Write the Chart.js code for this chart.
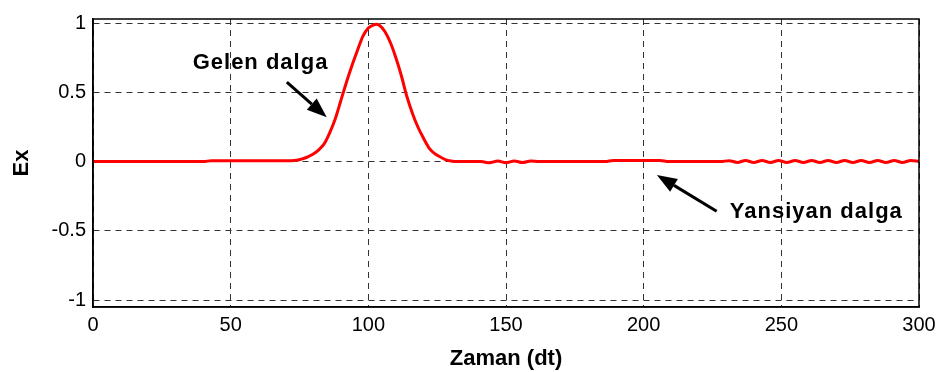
<!DOCTYPE html>
<html>
<head>
<meta charset="utf-8">
<script src="https://cdn.jsdelivr.net/npm/chart.js@4"></script>
<style>
  html, body { margin: 0; padding: 0; background: #fff; }
  #wrap { width: 944px; height: 372px; position: relative; }
</style>
</head>
<body>
<div id="wrap"><canvas id="exChart"></canvas></div>
<script>
// zaman adimlari (dt) ve Ex degerleri
const timeSteps = [0, 40, 43, 72, 74, 76, 78, 80, 82, 84, 86, 88, 90, 92, 94, 96, 98, 100, 102, 103, 104,
  106, 108, 110, 112, 114, 116, 118, 120, 122, 124, 126, 128, 130, 132,
  141, 144, 147, 150, 153, 156, 159, 162,
  186, 189, 206, 209,
  228, 231, 234, 237, 240, 243, 246, 249, 252, 255, 258, 261, 264, 267, 270, 273, 276, 279,
  282, 285, 288, 291, 294, 297, 300];
const exValues = [0, 0, 0.007, 0.007, 0.01, 0.02, 0.035, 0.055, 0.085, 0.13, 0.21, 0.31, 0.44, 0.57, 0.69, 0.80, 0.905, 0.965, 0.988, 0.992, 0.985,
  0.94, 0.86, 0.75, 0.62, 0.47, 0.35, 0.25, 0.17, 0.10, 0.06, 0.035, 0.015, 0.005, 0,
  0, -0.008, 0.004, -0.008, 0.005, -0.007, 0.005, 0,
  0, 0.008, 0.008, 0,
  0, 0.007, -0.006, 0.008, -0.006, 0.008, -0.006, 0.008, -0.006, 0.008, -0.006, 0.008, -0.006, 0.008, -0.006, 0.008, -0.006, 0.008,
  -0.006, 0.008, -0.006, 0.008, -0.006, 0.008, 0.002];
const xTicks = [0, 50, 100, 150, 200, 250, 300];
const yTicks = [-1, -0.5, 0, 0.5, 1];

// etiketler ve oklar (veri koordinatlarinda)
const notes = [
  { text: 'Gelen dalga', tx: 36.2, ty: 0.714, from: [70.4, 0.574], to: [84.9, 0.32] },
  { text: 'Yansiyan dalga', tx: 231.3, ty: -0.365, from: [226.5, -0.358], to: [204.8, -0.097] }
];

const FONT = '"Liberation Sans", Arial, sans-serif';

const boxPlugin = {
  id: 'boxPlugin',
  afterDraw(chart) {
    const { ctx, chartArea: a, scales } = chart;
    ctx.save();
    ctx.setLineDash([]);
    ctx.strokeStyle = '#000';
    ctx.lineWidth = 1.5;
    ctx.strokeRect(a.left, a.top, a.right - a.left, a.bottom - a.top);

    notes.forEach(n => {
      const x1 = scales.x.getPixelForValue(n.from[0]);
      const y1 = scales.y.getPixelForValue(n.from[1]);
      const x2 = scales.x.getPixelForValue(n.to[0]);
      const y2 = scales.y.getPixelForValue(n.to[1]);
      const ang = Math.atan2(y2 - y1, x2 - x1);
      const headLen = 20, headW = 7.5;
      const bx = x2 - headLen * Math.cos(ang);
      const by = y2 - headLen * Math.sin(ang);
      ctx.strokeStyle = '#000';
      ctx.lineWidth = 3;
      ctx.beginPath();
      ctx.moveTo(x1, y1);
      ctx.lineTo(bx, by);
      ctx.stroke();
      ctx.fillStyle = '#000';
      ctx.beginPath();
      ctx.moveTo(x2, y2);
      ctx.lineTo(bx + headW * Math.sin(ang), by - headW * Math.cos(ang));
      ctx.lineTo(bx - headW * Math.sin(ang), by + headW * Math.cos(ang));
      ctx.closePath();
      ctx.fill();

      ctx.font = 'bold 22px ' + FONT;
      ctx.letterSpacing = '1px';
      ctx.textBaseline = 'middle';
      ctx.textAlign = 'left';
      ctx.fillText(n.text, scales.x.getPixelForValue(n.tx), scales.y.getPixelForValue(n.ty));
    });
    ctx.restore();
  }
};

new Chart(document.getElementById('exChart'), {
  type: 'line',
  data: {
    datasets: [{
      label: 'Ex',
      data: timeSteps.map((t, i) => ({ x: t, y: exValues[i] })),
      borderColor: '#ff0000',
      borderWidth: 3,
      pointRadius: 0,
      fill: false,
      cubicInterpolationMode: 'monotone'
    }]
  },
  options: {
    responsive: true,
    maintainAspectRatio: false,
    animation: false,
    layout: { padding: { top: 11, right: 25, bottom: 0, left: 0 } },
    plugins: { legend: { display: false }, tooltip: { enabled: false } },
    scales: {
      x: {
        type: 'linear',
        min: 0,
        max: 300,
        afterBuildTicks: s => { s.ticks = xTicks.map(v => ({ value: v })); },
        afterFit: s => { s.height = 65; },
        ticks: { color: '#000', font: { family: FONT, size: 20 }, padding: 6, maxRotation: 0, callback: v => String(v) },
        grid: { color: '#333', lineWidth: 1, drawTicks: false, tickLength: 0 },
        border: { display: true, color: '#000', width: 1.5, dash: [6, 5] },
        title: { display: true, text: 'Zaman (dt)', color: '#000', font: { family: FONT, size: 22, weight: 'bold' }, padding: { top: 1, bottom: 0 } }
      },
      y: {
        min: -1.05,
        max: 1.03,
        afterBuildTicks: s => { s.ticks = yTicks.map(v => ({ value: v })); },
        afterFit: s => { s.width = 93; },
        ticks: { color: '#000', font: { family: FONT, size: 20 }, padding: 7, callback: v => String(v) },
        grid: { color: '#333', lineWidth: 1, drawTicks: false, tickLength: 0 },
        border: { display: true, color: '#000', width: 1.5, dash: [6, 5] },
        title: { display: true, text: 'Ex', color: '#000', font: { family: FONT, size: 22, weight: 'bold' }, padding: { top: 9, bottom: 0 } }
      }
    }
  },
  plugins: [boxPlugin]
});
</script>
</body>
</html>
